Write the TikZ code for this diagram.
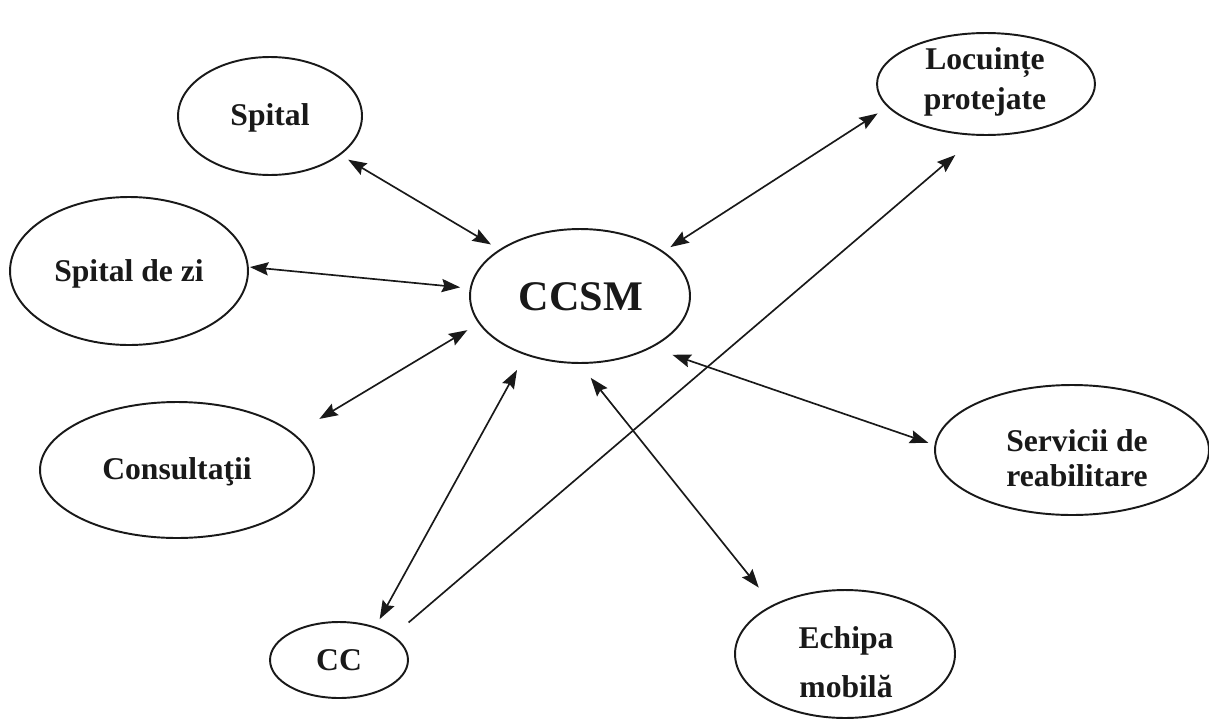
\documentclass[tikz,border=0pt]{standalone}
\usepackage{fontspec}
\setmainfont{Liberation Serif}
\usetikzlibrary{arrows.meta,shapes.geometric}
\begin{document}
\begin{tikzpicture}[x=0.02cm,y=-0.02cm,
  bub/.style={draw=black!90, line width=1.1pt, ellipse, inner sep=0pt, outer sep=0pt},
  lbl/.style={font=\bfseries\fontsize{18}{22}\selectfont, text=black!90, inner sep=0pt},
  tip/.tip={Stealth[length=10.5pt,width=7.5pt,inset=1.5pt]},
  link/.style={line width=0.95pt, draw=black!90, tip-tip},
  onelink/.style={line width=0.95pt, draw=black!90, -tip},
]
\useasboundingbox (0,0) rectangle (1209,720);
% ellipses
\node[bub, minimum width=3.68cm, minimum height=2.36cm] (spital) at (270,116) {};
\node[bub, minimum width=4.76cm, minimum height=2.96cm] (zi) at (129,271) {};
\node[bub, minimum width=5.48cm, minimum height=2.72cm] (cons) at (177,470) {};
\node[bub, minimum width=4.40cm, minimum height=2.68cm] (ccsm) at (580,296) {};
\node[bub, minimum width=4.36cm, minimum height=2.04cm] (loc) at (986,84) {};
\node[bub, minimum width=5.48cm, minimum height=2.60cm] (serv) at (1072,450) {};
\node[bub, minimum width=4.40cm, minimum height=2.56cm] (echipa) at (845,654) {};
\node[bub, minimum width=2.76cm, minimum height=1.52cm] (cc) at (339,660) {};
% labels
\node[lbl, anchor=base] (spitalT) at (270,125) {Spital};
\node[lbl, anchor=base] (ziT) at (129,281) {Spital de zi};
\node[lbl, anchor=base] (consT) at (177,479) {Consultaţii};
\node[lbl, anchor=base, font=\bfseries\fontsize{24}{28}\selectfont] (ccsmT) at (581,310) {CCSM};
\node[lbl, anchor=base] (ccT) at (339,670) {CC};
\node[lbl, align=center, font=\bfseries\fontsize{18}{22.7}\selectfont] (locT) at (985,82) {Locuințe\\protejate};
\node[lbl, align=center, font=\bfseries\fontsize{18}{19.8}\selectfont] (servT) at (1077,458.5) {Servicii de\\reabilitare};
\node[lbl, align=center, font=\bfseries\fontsize{18}{27.8}\selectfont] (echipaT) at (846,662) {Echipa\\mobilă};
% connectors
\draw[link, shorten <=0.2cm, shorten >=0.214cm] (spital.-29.3) -- (ccsm.150.6);
\draw[link, shorten <=0.042cm, shorten >=0.212cm] (zi.2) -- (ccsm.176.4);
\draw[link, shorten <=0.6cm, shorten >=0.28cm] (cons.17.7) -- (ccsm.-165.1);
\draw[link, shorten <=0.192cm, shorten >=0.36cm] (cc.42.7) -- (ccsm.-133);
\draw[onelink, shorten <=0.42cm, shorten >=0.62cm] (cc.24.7) -- (loc.-98.3);
\draw[link, shorten <=0.46cm, shorten >=0.38cm] (echipa.146.9) -- (ccsm.-91.5);
\draw[link, shorten <=0.15cm, shorten >=0.46cm] (serv.178.5) -- (ccsm.-36.2);
\draw[link, shorten <=0.254cm, shorten >=0.18cm] (loc.-167.3) -- (ccsm.28.2);
\end{tikzpicture}
\end{document}
